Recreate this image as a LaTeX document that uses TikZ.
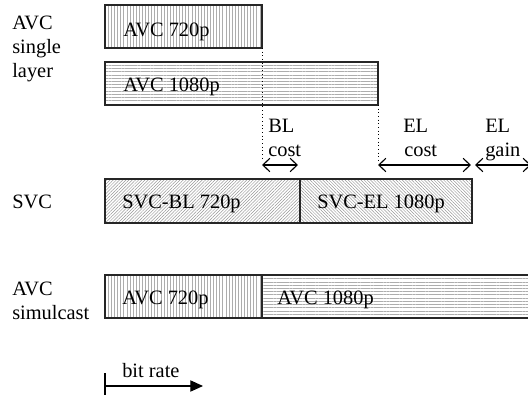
\documentclass[tikz,border=0pt]{standalone}
\usepackage{fontspec}
\setmainfont{Liberation Serif}
\usetikzlibrary{patterns.meta,arrows.meta}
\begin{document}
\begin{tikzpicture}[x=0.025cm, y=-0.025cm,
  every node/.style={font=\fontsize{14.5}{17}\selectfont, inner sep=0pt, anchor=base west},
  bar/.style={draw=black!85, line width=0.9pt},
  vhatch/.style={pattern={Lines[angle=90,distance=2.2pt,line width=0.4pt]}, pattern color=black!32},
  hhatch/.style={pattern={Lines[angle=0,distance=2.3pt,line width=0.4pt]}, pattern color=black!32},
  nehatch/.style={pattern={Lines[angle=45,distance=1.6pt,line width=0.35pt]}, pattern color=black!40},
  nwhatch/.style={pattern={Lines[angle=-45,distance=1.6pt,line width=0.35pt]}, pattern color=black!40},
  cost/.style={{Straight Barb[length=5pt,width=9.5pt]}-{Straight Barb[length=5pt,width=9.5pt]}, line width=0.8pt},
  guide/.style={dotted, line width=0.6pt}]
  \useasboundingbox (0,0) rectangle (528,395);

  % AVC single layer
  \draw[bar, vhatch] (105,5) rectangle (262,48) coordinate (s720);
  \draw[bar, hhatch] (105,62) rectangle (378,105) coordinate (s1080);
  \node (sA) at (12,29) {AVC};
  \node (sB) at (12,53) {single};
  \node (sC) at (12,77) {layer};
  \node (s720t) at (123,36) {AVC 720p};
  \node (s1080t) at (123,91) {AVC 1080p};

  % costs and gain
  \coordinate (blA) at (262,165);
  \coordinate (blB) at (298,165);
  \coordinate (elA) at (378,165);
  \coordinate (elB) at (471,165);
  \coordinate (gnA) at (475,165);
  \coordinate (gnB) at (531,165);
  \draw[guide] (s720) -- (blA |- 0,160);
  \draw[guide] (s1080) -- (elA |- 0,160);
  \draw[cost] (blA) -- (blB);
  \draw[cost] (elA) -- (elB);
  \draw[cost] (gnA) -- (gnB);
  \node (blT) at (268,132) {BL};
  \node (blC) at (268,156) {cost};
  \node (elT) at (403,132) {EL};
  \node (elC) at (404,156) {cost};
  \node (gnT) at (485,132) {EL};
  \node (gnC) at (485,156) {gain};

  % SVC
  \draw[bar, nehatch] (105,179) rectangle (300,223);
  \draw[bar, nwhatch] (300,179) rectangle (472,223);
  \node (svc) at (12,208) {SVC};
  \node (svcBL) at (122,208) {SVC-BL 720p};
  \node (svcEL) at (317,208) {SVC-EL 1080p};

  % AVC simulcast
  \draw[bar, vhatch] (105,275) rectangle (262,318);
  \draw[bar, hhatch] (262,275) rectangle (540,318);
  \node (smA) at (12,295) {AVC};
  \node (smB) at (12,319) {simulcast};
  \node (sm720) at (122,304) {AVC 720p};
  \node (sm1080) at (277,304) {AVC 1080p};

  % bit rate axis
  \coordinate (br0) at (105,386);
  \coordinate (br1) at (203,386);
  \draw[line width=0.8pt] (105,373) -- (105,395);
  \draw[line width=0.8pt, -{Triangle[length=9pt,width=8pt]}] (br0) -- (br1);
  \node (brT) at (122,377) {bit rate};
\end{tikzpicture}
\end{document}
